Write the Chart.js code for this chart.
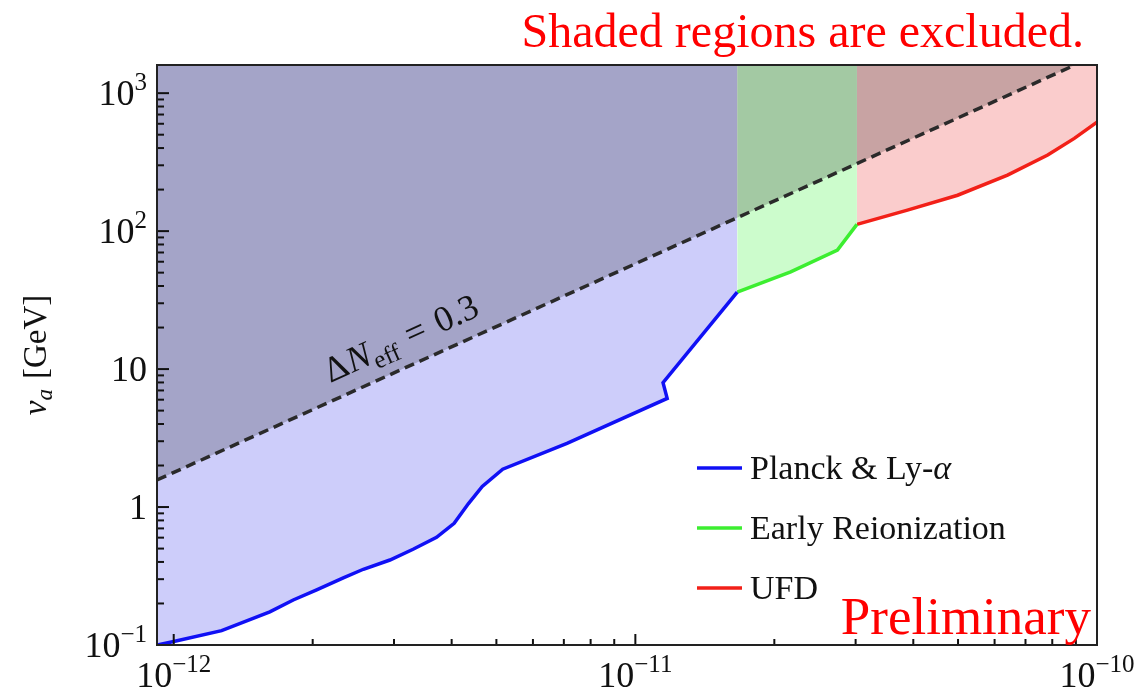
<!DOCTYPE html>
<html>
<head>
<meta charset="utf-8">
<script src="https://cdn.jsdelivr.net/npm/chart.js@4/dist/chart.umd.min.js"></script>
<style>
  html, body { margin: 0; padding: 0; background: #fff; }
  #wrap { position: relative; width: 1143px; height: 690px; }
</style>
</head>
<body>
<div id="wrap"><canvas id="c" width="1143" height="690"></canvas></div>
<script>
// Axion mass scale bounds vs. coupling; log-log
const planckX = [9.2e-13, 1.0e-12, 1.27e-12, 1.615e-12, 1.815e-12, 2.04e-12, 2.33e-12, 2.575e-12, 2.94e-12,
                 3.30e-12, 3.71e-12, 4.05e-12, 4.35e-12, 4.66e-12, 5.16e-12, 7.11e-12, 1.172e-11, 1.148e-11, 1.662e-11];
const planckY = [0.100, 0.106, 0.127, 0.174, 0.212, 0.251, 0.307, 0.354, 0.413,
                 0.494, 0.603, 0.762, 1.06, 1.41, 1.88, 2.89, 6.13, 7.96, 36.1];

const reionX = [1.662e-11, 2.17e-11, 2.74e-11, 3.02e-11];
const reionY = [36.1, 50.7, 72.8, 112];

const ufdX = [3.02e-11, 3.885e-11, 4.99e-11, 6.40e-11, 7.82e-11, 8.93e-11, 1.0e-10];
const ufdY = [112, 142, 182, 255, 356, 470, 617];

const neffX = [9.2e-13, 1.0e-11, 8.96e-11];
const neffY = [1.57, 58, 1600];

// tick labels written as base^exponent
const xTickValues = [1e-12, 1e-11, 1e-10];
const xTickLabels = ['10^−12', '10^−11', '10^−10'];
const yTickValues = [0.1, 1, 10, 100, 1000];
const yTickLabels = ['10^−1', '1', '10', '10^2', '10^3'];

const seriesNames = ['Planck & Ly-α', 'Early Reionization', 'UFD'];

const xRange = [9.2e-13, 1e-10];
const yRange = [0.1, 1600];

const neffLabelX = 2.26e-12;

const SERIF = '"Liberation Serif", "DejaVu Serif", serif';

const pts = (xs, ys) => xs.map((x, i) => ({ x, y: ys[i] }));

// draw a run of text pieces with different fonts / offsets
function richText(ctx, segs, x, y, align) {
  let w = 0;
  segs.forEach(s => { ctx.font = s.font; s.w = ctx.measureText(s.t).width; w += s.w + (s.gap || 0); });
  let cx = align === 'center' ? x - w / 2 : align === 'right' ? x - w : x;
  segs.forEach(s => { ctx.font = s.font; ctx.fillText(s.t, cx, y + (s.dy || 0)); cx += s.w + (s.gap || 0); });
  return w;
}

function powerLabel(label) {
  const [base, exp] = label.split('^');
  const segs = [{ t: base, font: `36px ${SERIF}` }];
  if (exp) segs.push({ t: exp, font: `25px ${SERIF}`, dy: -15 });
  return segs;
}

function neffAt(x) {
  const lx = Math.log10(x);
  for (let i = 0; i < neffX.length - 1; i++) {
    const a = Math.log10(neffX[i]), b = Math.log10(neffX[i + 1]);
    if (lx >= a && lx <= b) {
      const t = (lx - a) / (b - a);
      return Math.pow(10, Math.log10(neffY[i]) + t * (Math.log10(neffY[i + 1]) - Math.log10(neffY[i])));
    }
  }
  return neffY[0];
}

const decor = {
  id: 'decor',
  afterDatasetsDraw(chart) {
    const { ctx, chartArea: a, scales } = chart;
    const xs = scales.x, ys = scales.y;
    ctx.save();
    ctx.strokeStyle = '#111';
    ctx.lineWidth = 2;
    // inward ticks, bottom axis
    for (let d = -13; d <= -10; d++) {
      for (let m = 1; m <= 9; m++) {
        const v = m * Math.pow(10, d);
        if (v < xRange[0] * 0.999 || v > xRange[1] * 1.001) continue;
        const px = xs.getPixelForValue(v);
        const len = m === 1 ? 11 : 6;
        ctx.beginPath(); ctx.moveTo(px, a.bottom); ctx.lineTo(px, a.bottom - len); ctx.stroke();
      }
    }
    // inward ticks, left axis
    for (let d = -1; d <= 3; d++) {
      for (let m = 1; m <= 9; m++) {
        const v = m * Math.pow(10, d);
        if (v < yRange[0] * 0.999 || v > yRange[1] * 1.001) continue;
        const py = ys.getPixelForValue(v);
        const len = m === 1 ? 12 : 7;
        ctx.beginPath(); ctx.moveTo(a.left, py); ctx.lineTo(a.left + len, py); ctx.stroke();
      }
    }
    // frame
    ctx.strokeStyle = '#222';
    ctx.strokeRect(a.left, a.top, a.right - a.left, a.bottom - a.top);

    // ΔN_eff label along the dashed line
    const p0 = { x: xs.getPixelForValue(neffX[0]), y: ys.getPixelForValue(neffY[0]) };
    const p1 = { x: xs.getPixelForValue(neffX[neffX.length - 1]), y: ys.getPixelForValue(neffY[neffY.length - 1]) };
    const ang = Math.atan2(p1.y - p0.y, p1.x - p0.x);
    const ax = xs.getPixelForValue(neffLabelX), ay = ys.getPixelForValue(neffAt(neffLabelX));
    ctx.translate(ax, ay);
    ctx.rotate(ang);
    ctx.fillStyle = '#111';
    ctx.textBaseline = 'alphabetic';
    ctx.textAlign = 'left';
    richText(ctx, [
      { t: 'Δ', font: `36px ${SERIF}`, gap: 1 },
      { t: 'N', font: `italic 36px ${SERIF}`, gap: 1 },
      { t: 'eff', font: `25px ${SERIF}`, dy: 7, gap: 12 },
      { t: '=', font: `36px ${SERIF}`, gap: 12 },
      { t: '0.3', font: `36px ${SERIF}` }
    ], 0, -17, 'left');
    ctx.restore();
  },
  afterDraw(chart) {
    const { ctx, chartArea: a, scales } = chart;
    ctx.save();
    ctx.fillStyle = '#111';
    ctx.textBaseline = 'alphabetic';

    // tick labels with raised exponents
    scales.x.ticks.forEach((t, i) => {
      const px = scales.x.getPixelForValue(t.value);
      richText(ctx, powerLabel(xTickLabels[i]), px, 687, 'center');
    });
    scales.y.ticks.forEach((t, i) => {
      const py = scales.y.getPixelForValue(t.value);
      richText(ctx, powerLabel(yTickLabels[i]), a.left - 10, py + 12, 'right');
    });

    // y-axis title
    ctx.save();
    ctx.translate(46, (a.top + a.bottom) / 2);
    ctx.rotate(-Math.PI / 2);
    richText(ctx, [
      { t: 'v', font: `italic 33px ${SERIF}` },
      { t: 'a', font: `italic 23px ${SERIF}`, dy: 6, gap: 10 },
      { t: '[GeV]', font: `33px ${SERIF}` }
    ], 0, 0, 'center');
    ctx.restore();

    // legend
    const ds = chart.data.datasets;
    const lx0 = a.right - 400, lx1 = a.right - 355, ty = a.bottom - 177;
    for (let i = 0; i < 3; i++) {
      const y = ty + i * 60;
      ctx.strokeStyle = ds[i].borderColor;
      ctx.lineWidth = 3.5;
      ctx.beginPath(); ctx.moveTo(lx0, y); ctx.lineTo(lx1, y); ctx.stroke();
      ctx.fillStyle = '#111';
      ctx.textBaseline = 'middle';
      const name = ds[i].label;
      if (name.endsWith('α')) {
        richText(ctx, [
          { t: name.slice(0, -1), font: `34px ${SERIF}` },
          { t: 'α', font: `italic 34px ${SERIF}` }
        ], lx1 + 8, y + 2, 'left');
      } else {
        ctx.font = `34px ${SERIF}`;
        ctx.fillText(name, lx1 + 8, y + 2);
      }
    }

    // red notes
    ctx.fillStyle = '#ff0000';
    ctx.textBaseline = 'alphabetic';
    ctx.textAlign = 'right';
    ctx.font = `48px ${SERIF}`;
    ctx.fillText('Shaded regions are excluded.', 1084, 47);
    ctx.font = `53px ${SERIF}`;
    ctx.fillText('Preliminary', 1091, 634);
    ctx.restore();
  }
};

new Chart(document.getElementById('c'), {
  type: 'line',
  data: {
    datasets: [
      { label: seriesNames[0], data: pts(planckX, planckY), borderColor: '#1010f5',
        backgroundColor: 'rgb(205,205,250)', fill: 'end', borderWidth: 3.5, order: 1 },
      { label: seriesNames[1], data: pts(reionX, reionY), borderColor: '#3cee30',
        backgroundColor: 'rgb(204,252,204)', fill: 'end', borderWidth: 3.5, order: 1 },
      { label: seriesNames[2], data: pts(ufdX, ufdY), borderColor: '#f22018',
        backgroundColor: 'rgb(250,204,204)', fill: 'end', borderWidth: 3.5, order: 1 },
      { label: 'ΔNeff = 0.3', data: pts(neffX, neffY), borderColor: '#2a2a2a', borderDash: [10, 6],
        backgroundColor: 'rgba(0,0,0,0.2)', fill: 'end', borderWidth: 3.5, order: 0 }
    ]
  },
  options: {
    responsive: false,
    animation: false,
    devicePixelRatio: 1,
    elements: { point: { radius: 0 }, line: { tension: 0, borderCapStyle: 'butt' } },
    layout: { padding: { left: 0, top: 65, right: 46, bottom: 0 } },
    plugins: { legend: { display: false }, tooltip: { enabled: false } },
    scales: {
      x: {
        type: 'logarithmic', min: xRange[0], max: xRange[1],
        grid: { display: false }, border: { display: false },
        afterBuildTicks: s => { s.ticks = xTickValues.map(v => ({ value: v })); },
        afterFit: s => { s.height = 45; },
        ticks: { display: false, autoSkip: false }
      },
      y: {
        type: 'logarithmic', min: yRange[0], max: yRange[1],
        grid: { display: false }, border: { display: false },
        afterBuildTicks: s => { s.ticks = yTickValues.map(v => ({ value: v })); },
        afterFit: s => { s.width = 157; },
        ticks: { display: false, autoSkip: false }
      }
    }
  },
  plugins: [decor]
});
</script>
</body>
</html>
